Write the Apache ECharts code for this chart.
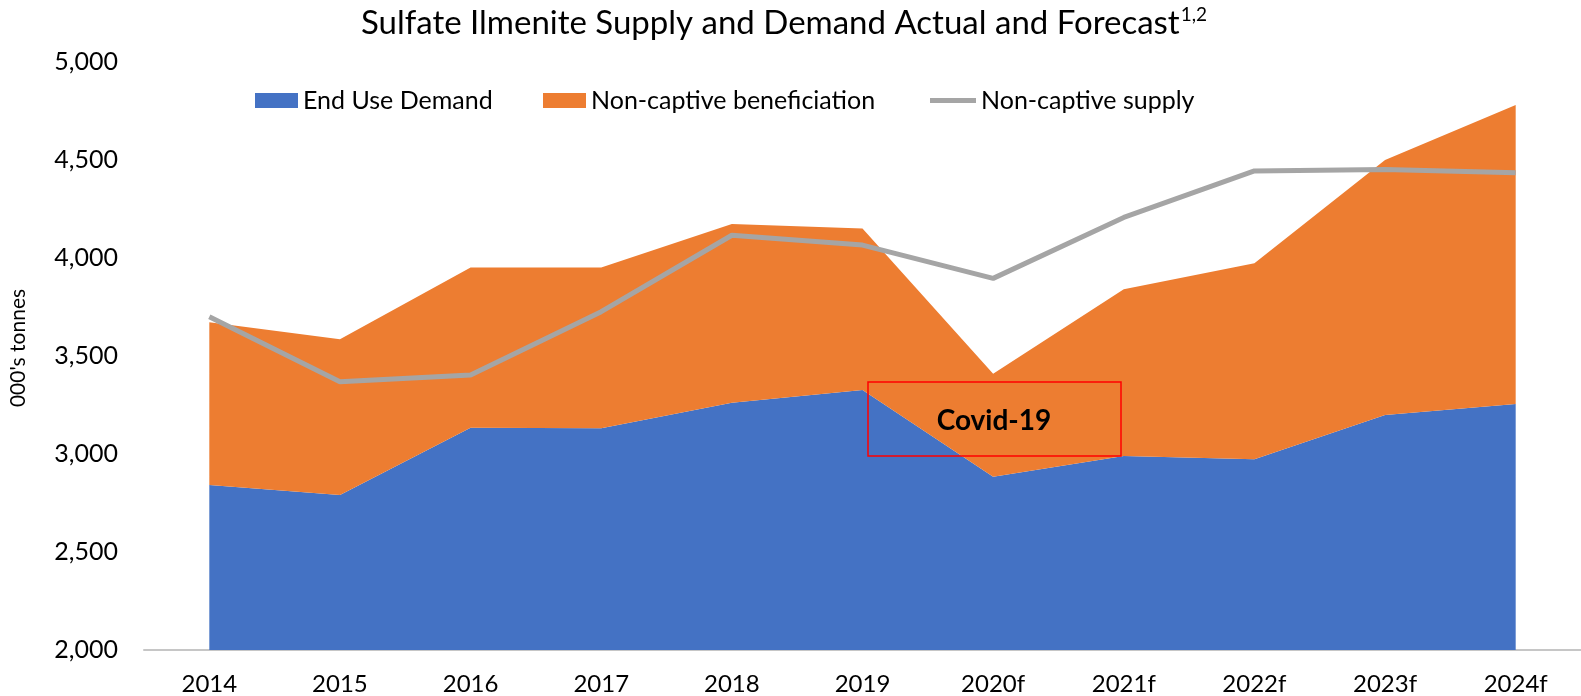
<!DOCTYPE html>
<html>
<head>
<meta charset="utf-8">
<script src="https://cdn.jsdelivr.net/npm/echarts@6/dist/echarts.min.js"></script>
<style>
html,body{margin:0;padding:0;background:#fff;}
#c{width:1581px;height:696px;}
</style>
</head>
<body>
<div id="c"></div>
<script>
const categories = ['2014','2015','2016','2017','2018','2019','2020f','2021f','2022f','2023f','2024f'];
const endUseDemand = [2842, 2791, 3134, 3131, 3262, 3327, 2884, 2990, 2973, 3199, 3255];
const nonCaptiveBeneficiation = [830, 794, 818, 821, 911, 824, 526, 850, 1000, 1301, 1526];
const nonCaptiveSupply = [3700, 3369, 3403, 3726, 4116, 4066, 3896, 4207, 4444, 4452, 4435];
const yTicks = { min: 2000, max: 5000, interval: 500 };

const FONT = 'Lato, "Open Sans", sans-serif';
const chart = echarts.init(document.getElementById('c'), null, { renderer: 'canvas' });

const legendBase = {
  top: 83, itemWidth: 43, itemHeight: 15, itemGap: 51,
  textStyle: { fontFamily: FONT, fontSize: 25, color: '#000' }
};

chart.setOption({
  animation: false,
  backgroundColor: '#fff',
  title: {
    text: 'Sulfate Ilmenite Supply and Demand Actual and Forecast{sup|1,2}',
    left: 356, top: 0,
    textStyle: {
      fontFamily: FONT, fontSize: 33, fontWeight: 'normal', color: '#000',
      rich: { sup: { fontFamily: FONT, fontSize: 19, verticalAlign: 'top', padding: [0,0,17,1], color: '#000' } }
    }
  },
  legend: [
    Object.assign({}, legendBase, { left: 250, data: [{ name: 'End Use Demand', icon: 'rect' }] }),
    Object.assign({}, legendBase, { left: 538, data: [{ name: 'Non-captive beneficiation', icon: 'rect' }] }),
    Object.assign({}, legendBase, { left: 925, itemWidth: 46, itemHeight: 5, data: [{ name: 'Non-captive supply', icon: 'rect' }] })
  ],
  grid: { left: 133, top: 62, width: 1450, bottom: 46, containLabel: false },
  xAxis: {
    type: 'category',
    data: categories,
    boundaryGap: true,
    axisLine: { show: true, lineStyle: { color: '#C6C6C6', width: 2 } },
    axisTick: { show: false },
    axisLabel: { fontFamily: FONT, fontSize: 24, color: '#000', margin: 22 },
    splitLine: { show: false }
  },
  yAxis: {
    type: 'value',
    min: yTicks.min, max: yTicks.max, interval: yTicks.interval,
    name: "000's tonnes",
    nameLocation: 'middle', nameRotate: 90, nameGap: 115,
    nameTextStyle: { fontFamily: FONT, fontSize: 21, color: '#000', padding: [0,0,0,16] },
    axisLine: { show: false },
    axisTick: { show: false },
    splitLine: { show: false },
    axisLabel: {
      fontFamily: FONT, fontSize: 25, color: '#000', margin: 26,
      formatter: v => v.toLocaleString('en-US')
    }
  },
  series: [
    {
      name: 'End Use Demand', type: 'line', stack: 'total', data: endUseDemand,
      symbol: 'none', lineStyle: { width: 0 }, itemStyle: { color: '#4472C4' },
      areaStyle: { color: '#4472C4', opacity: 1 }, z: 1
    },
    {
      name: 'Non-captive beneficiation', type: 'line', stack: 'total', data: nonCaptiveBeneficiation,
      symbol: 'none', lineStyle: { width: 0 }, itemStyle: { color: '#ED7D31' },
      areaStyle: { color: '#ED7D31', opacity: 1 }, z: 1
    },
    {
      name: 'Non-captive supply', type: 'line', data: nonCaptiveSupply,
      symbol: 'none', lineStyle: { width: 5, color: '#A5A5A5' }, itemStyle: { color: '#A5A5A5' }, z: 3
    }
  ],
  graphic: [
    {
      type: 'rect', z: 10,
      shape: { x: 868, y: 382, width: 253, height: 74 },
      style: { fill: 'none', stroke: '#FF0000', lineWidth: 1.5 }
    },
    {
      type: 'text', z: 11, x: 994, y: 421,
      style: { text: 'Covid-19', fontFamily: FONT, fontSize: 28, fontWeight: 'bold', fill: '#000', align: 'center', verticalAlign: 'middle' }
    }
  ]
});
</script>
</body>
</html>
